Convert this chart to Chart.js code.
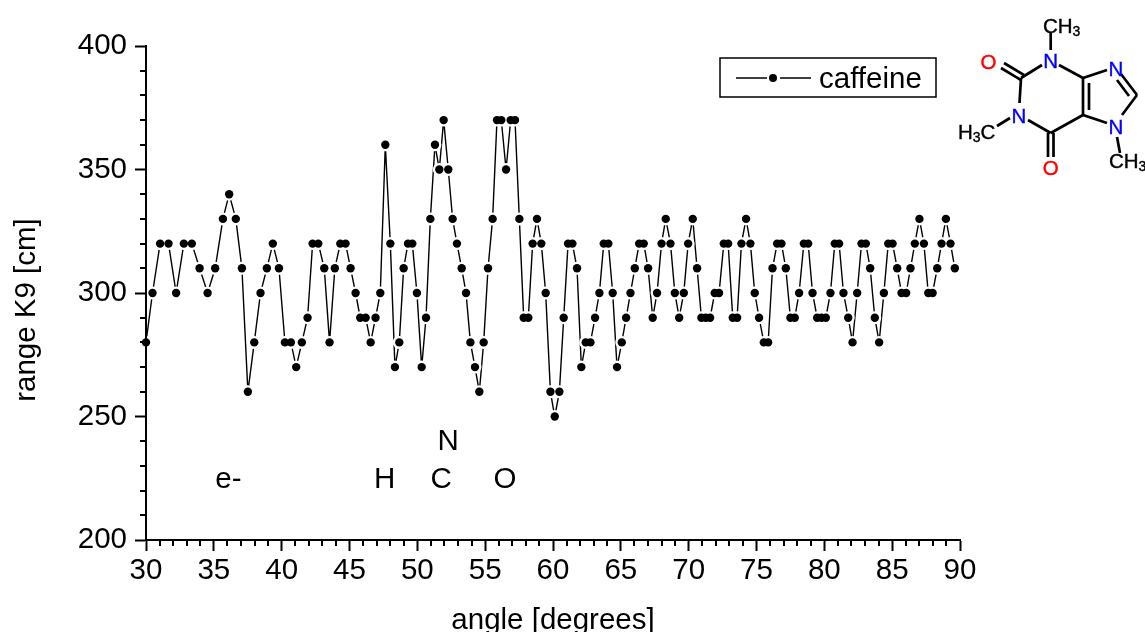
<!DOCTYPE html>
<html>
<head>
<meta charset="utf-8">
<title>caffeine</title>
<script src="https://cdn.jsdelivr.net/npm/chart.js@4"></script>
<style>
html, body { margin: 0; padding: 0; background: #fff; overflow: hidden; }
#wrap { position: relative; width: 1145px; height: 632px; }
#myChart { position: absolute; left: 0; top: 0; }
#molecule { position: absolute; left: 0; top: 0; pointer-events: none; }
#molecule text { font-family: "Liberation Sans", Arial, sans-serif; font-size: 20.5px; stroke-width: 0.4; }
#molecule line { stroke: #000; stroke-width: 2.7; }
</style>
</head>
<body>
<div id="wrap">
<canvas id="myChart" width="1145" height="632"></canvas>
<svg id="molecule" width="1145" height="632">
    <line x1="1050.7" y1="50" x2="1050.7" y2="33"/>
    <line x1="1059" y1="65" x2="1083" y2="78"/>
    <line x1="1042" y1="65" x2="1021" y2="78"/>
    <line x1="1021" y1="78" x2="1019.5" y2="103"/>
    <line x1="1021" y1="80" x2="1001" y2="68"/>
    <line x1="1024" y1="75" x2="1004" y2="63"/>
    <line x1="1028" y1="120" x2="1050.7" y2="133"/>
    <line x1="1050.7" y1="133" x2="1083" y2="115"/>
    <line x1="1083" y1="115" x2="1083" y2="78"/>
    <line x1="1089" y1="110" x2="1089" y2="83"/>
    <line x1="1083" y1="78" x2="1107" y2="70"/>
    <line x1="1121" y1="74" x2="1137" y2="95"/>
    <line x1="1117" y1="80" x2="1129" y2="96"/>
    <line x1="1137" y1="95" x2="1122" y2="115"/>
    <line x1="1107" y1="123" x2="1083" y2="115"/>
    <line x1="1048" y1="133" x2="1048" y2="157"/>
    <line x1="1053.5" y1="133" x2="1053.5" y2="157"/>
    <line x1="1010" y1="118" x2="997" y2="126"/>
    <line x1="1117" y1="137" x2="1120" y2="153"/>
    <text x="1050.7" y="67.5" text-anchor="middle" fill="#0000ff" stroke="#0000ff">N</text>
    <text x="1019" y="122.5" text-anchor="middle" fill="#0000ff" stroke="#0000ff">N</text>
    <text x="1116" y="75.5" text-anchor="middle" fill="#0000ff" stroke="#0000ff">N</text>
    <text x="1116" y="133.5" text-anchor="middle" fill="#0000ff" stroke="#0000ff">N</text>
    <text x="988.5" y="68.5" text-anchor="middle" fill="#ff0000" stroke="#ff0000">O</text>
    <text x="1050.7" y="174.5" text-anchor="middle" fill="#ff0000" stroke="#ff0000">O</text>
    <text x="1043" y="33" fill="#000" stroke="#000">CH<tspan font-size="14" dy="3">3</tspan></text>
    <text x="958" y="139" fill="#000" stroke="#000">H<tspan font-size="14" dy="3">3</tspan><tspan dy="-3">C</tspan></text>
    <text x="1109" y="168" fill="#000" stroke="#000">CH<tspan font-size="14" dy="3">3</tspan></text>
</svg>
</div>
<script>
const seriesName = "caffeine";
const xTitle = "angle [degrees]";
const yTitle = "range K9 [cm]";
const fontName = '"Liberation Sans", Arial, sans-serif';
const fontSize = 29.5;

const angles = [
    30.00, 30.48, 31.04, 31.66, 32.22, 32.79, 33.38, 33.95, 34.54, 35.10,
    35.67, 36.13, 36.62, 37.07, 37.51, 37.98, 38.44, 38.91, 39.35, 39.80,
    40.24, 40.68, 41.07, 41.49, 41.91, 42.28, 42.70, 43.14, 43.53, 43.92,
    44.32, 44.71, 45.08, 45.45, 45.79, 46.19, 46.56, 46.92, 47.27, 47.64,
    48.01, 48.35, 48.67, 48.99, 49.31, 49.63, 49.97, 50.32, 50.64, 50.96,
    51.30, 51.62, 51.94, 52.28, 52.60, 52.92, 53.27, 53.59, 53.91, 54.25,
    54.57, 54.89, 55.21, 55.55, 55.87, 56.19, 56.54, 56.88, 57.20, 57.52,
    57.84, 58.18, 58.50, 58.82, 59.14, 59.46, 59.81, 60.13, 60.47, 60.79,
    61.11, 61.43, 61.77, 62.09, 62.41, 62.76, 63.10, 63.42, 63.74, 64.08,
    64.40, 64.72, 65.07, 65.39, 65.71, 66.03, 66.35, 66.69, 67.01, 67.35,
    67.67, 68.00, 68.31, 68.66, 68.98, 69.30, 69.64, 69.96, 70.30, 70.62,
    70.94, 71.26, 71.58, 71.92, 72.24, 72.59, 72.91, 73.25, 73.57, 73.89,
    74.23, 74.55, 74.87, 75.19, 75.54, 75.86, 76.18, 76.52, 76.84, 77.16,
    77.50, 77.82, 78.14, 78.49, 78.81, 79.13, 79.47, 79.79, 80.11, 80.45,
    80.77, 81.09, 81.41, 81.76, 82.08, 82.42, 82.74, 83.06, 83.38, 83.72,
    84.04, 84.39, 84.71, 85.03, 85.37, 85.69, 86.03, 86.35, 86.67, 87.01,
    87.34, 87.66, 87.98, 88.32, 88.64, 88.96, 89.30, 89.62
];
const ranges = [
    280, 300, 320, 320, 300, 320, 320, 310, 300, 310,
    330, 340, 330, 310, 260, 280, 300, 310, 320, 310,
    280, 280, 270, 280, 290, 320, 320, 310, 280, 310,
    320, 320, 310, 300, 290, 290, 280, 290, 300, 360,
    320, 270, 280, 310, 320, 320, 300, 270, 290, 330,
    360, 350, 370, 350, 330, 320, 310, 300, 280, 270,
    260, 280, 310, 330, 370, 370, 350, 370, 370, 330,
    290, 290, 320, 330, 320, 300, 260, 250, 260, 290,
    320, 320, 310, 270, 280, 280, 290, 300, 320, 320,
    300, 270, 280, 290, 300, 310, 320, 320, 310, 290,
    300, 320, 330, 320, 300, 290, 300, 320, 330, 310,
    290, 290, 290, 300, 300, 320, 320, 290, 290, 320,
    330, 320, 300, 290, 280, 280, 310, 320, 320, 310,
    290, 290, 300, 320, 320, 300, 290, 290, 290, 300,
    320, 320, 300, 290, 280, 300, 320, 320, 310, 290,
    280, 300, 320, 320, 310, 300, 300, 310, 320, 330,
    320, 300, 300, 310, 320, 330, 320, 310
];

const noteLabels = ["e-", "H", "C", "N", "O"];
const noteAngles = [36.08, 47.6, 51.75, 52.27, 56.46];
const noteRanges = [224.3, 224.3, 224.3, 239.7, 224.3];

const points = angles.map(function(a, i) {
    return { x: a, y: ranges[i] };
});

// minor ticks, notes, y title and legend box
const extrasPlugin = {
    id: 'extras',
    afterDraw: function(chart) {
        const ctx = chart.ctx;
        const xs = chart.scales.x;
        const ys = chart.scales.y;
        ctx.save();
        ctx.strokeStyle = '#000';
        ctx.lineWidth = 2;
        ctx.beginPath();
        for (var a = 30; a <= 90; ++a) {
            if (a % 5 === 0) continue;
            const px = Math.round(xs.getPixelForValue(a));
            ctx.moveTo(px, ys.bottom);
            ctx.lineTo(px, ys.bottom + 6);
        }
        for (var r = 200; r <= 400; r += 10) {
            if (r % 50 === 0) continue;
            const py = Math.round(ys.getPixelForValue(r));
            ctx.moveTo(xs.left, py);
            ctx.lineTo(xs.left - 6, py);
        }
        ctx.stroke();

        ctx.fillStyle = '#000';
        ctx.font = fontSize + 'px ' + fontName;
        ctx.textAlign = 'center';
        ctx.textBaseline = 'middle';
        for (var i = 0; i < noteLabels.length; ++i) {
            ctx.fillText(noteLabels[i], xs.getPixelForValue(noteAngles[i]), ys.getPixelForValue(noteRanges[i]));
        }

        ctx.save();
        ctx.translate(27, 310);
        ctx.rotate(-Math.PI / 2);
        ctx.fillText(yTitle, 0, 0);
        ctx.restore();

        ctx.lineWidth = 1.5;
        ctx.strokeRect(720, 58, 216, 39);
        ctx.lineWidth = 1.3;
        ctx.beginPath();
        ctx.moveTo(736, 78);
        ctx.lineTo(767, 78);
        ctx.moveTo(780, 78);
        ctx.lineTo(811, 78);
        ctx.stroke();
        ctx.beginPath();
        ctx.arc(773, 78, 4, 0, Math.PI * 2);
        ctx.fill();
        ctx.textAlign = 'left';
        ctx.fillText(chart.data.datasets[0].label, 819, 79.5);
        ctx.restore();
    }
};

function showChart() {
    new Chart("myChart", {
        type: 'line',
        data: {
            datasets: [
                { label: seriesName, data: points, borderColor: '#000', borderWidth: 1.4, pointRadius: 0, order: 3, clip: false },
                { data: points, showLine: false, pointRadius: 6.5, pointBackgroundColor: '#fff', pointBorderWidth: 0, order: 2, clip: false },
                { data: points, showLine: false, pointRadius: 4.2, pointBackgroundColor: '#000', pointBorderWidth: 0, order: 1, clip: false }
            ]
        },
        options: {
            responsive: false,
            animation: false,
            layout: { padding: { top: 46, right: 185 } },
            plugins: {
                legend: { display: false },
                tooltip: { enabled: false }
            },
            scales: {
                x: {
                    type: 'linear',
                    min: 30,
                    max: 90,
                    afterFit: function(scale) { scale.height = 92; },
                    border: { color: '#000', width: 2, z: 1 },
                    grid: { drawOnChartArea: false, color: '#000', tickColor: '#000', tickWidth: 2, tickLength: 11, z: 1 },
                    ticks: { stepSize: 5, color: '#000', font: { family: fontName, size: fontSize }, padding: 2, maxRotation: 0, autoSkip: false },
                    title: { display: true, text: xTitle, color: '#000', font: { family: fontName, size: fontSize, lineHeight: 1 }, padding: { top: 0, bottom: -4 } }
                },
                y: {
                    min: 200,
                    max: 400,
                    afterFit: function(scale) { scale.width = 146; },
                    border: { color: '#000', width: 2, z: 1 },
                    grid: { drawOnChartArea: false, color: '#000', tickColor: '#000', tickWidth: 2, tickLength: 11, z: 1 },
                    ticks: { stepSize: 50, color: '#000', font: { family: fontName, size: fontSize }, padding: 8 }
                }
            }
        },
        plugins: [extrasPlugin]
    });
}

showChart();
</script>
</body>
</html>
